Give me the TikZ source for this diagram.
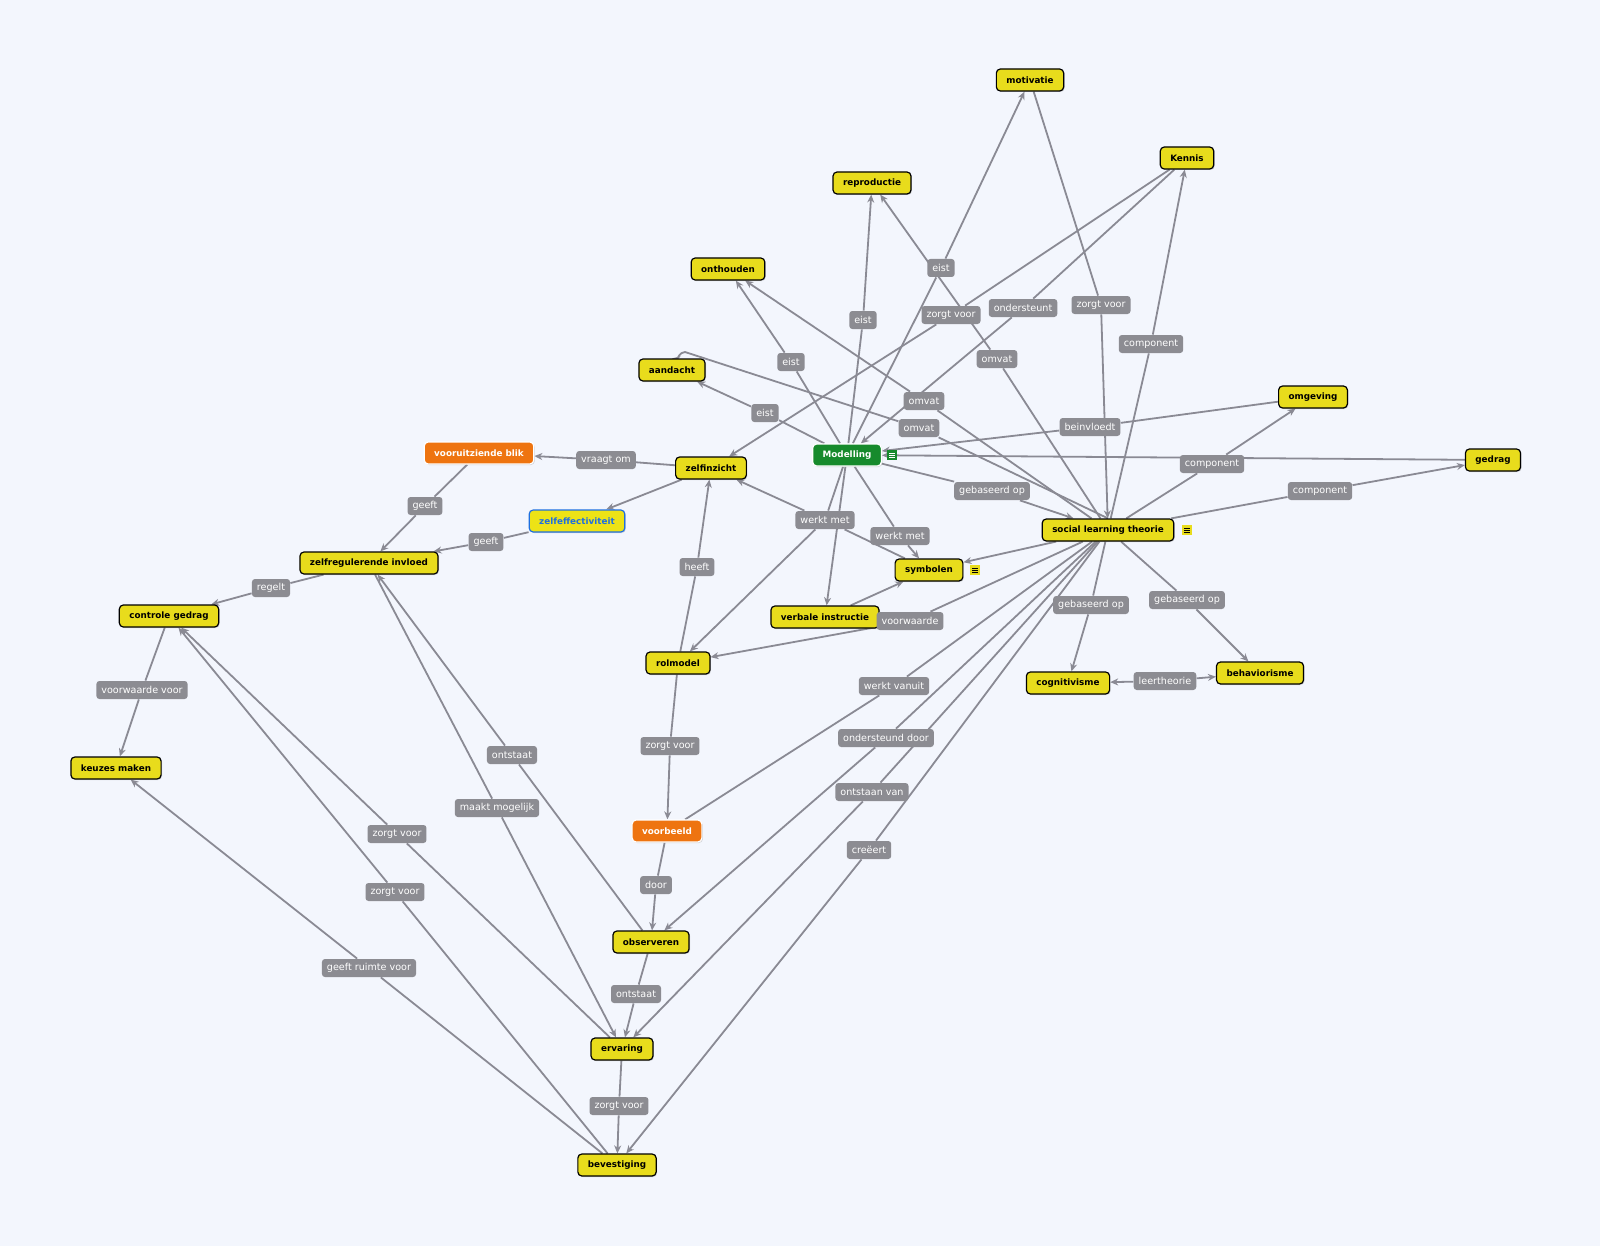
\documentclass[tikz,border=0pt]{standalone}
\usepackage{fontspec}
\setmainfont{DejaVu Sans}
\usetikzlibrary{arrows.meta,backgrounds,shadows}
\definecolor{bg}{HTML}{F3F6FD}
\definecolor{ny}{HTML}{E8DC1C}
\definecolor{ng}{HTML}{168A2C}
\definecolor{no}{HTML}{EE7410}
\definecolor{lg}{HTML}{8C8C92}
\definecolor{ln}{HTML}{8A8A94}
\definecolor{bl}{HTML}{1E6FE0}
\tikzset{
 n/.style={draw=black,line width=0.6pt,fill=ny,rounded corners=2pt,minimum height=11pt,inner xsep=5pt,inner ysep=1pt,font=\fontsize{4.4}{5}\selectfont\bfseries,drop shadow={shadow xshift=0.5pt,shadow yshift=-0.5pt,opacity=0.3}},
 ng/.style={n,draw=white,fill=ng,text=white},
 no/.style={n,draw=white,fill=no,text=white},
 nb/.style={n,draw=bl,fill=ny!80!yellow,text=bl},
 l/.style={fill=lg,text=white,rounded corners=1.5pt,minimum height=9pt,inner xsep=2.5pt,inner ysep=1pt,font=\fontsize{4.8}{5}\selectfont},
 e/.style={draw=ln,line width=0.9pt,-{Stealth[length=4pt,width=3.5pt]}},
 ea/.style={draw=ln,line width=0.9pt},
 ic/.style 2 args={fill=#1,minimum size=5pt,inner sep=0pt,path picture={\draw[#2,line width=0.35pt] ([xshift=1pt,yshift=-1.5pt]path picture bounding box.north west)--++(3pt,0) ([xshift=1pt,yshift=-2.5pt]path picture bounding box.north west)--++(3pt,0) ([xshift=1pt,yshift=-3.5pt]path picture bounding box.north west)--++(3pt,0);}},
}
\begin{document}
\begin{tikzpicture}[x=0.5pt,y=-0.5pt]
\useasboundingbox (0,0) rectangle (1600,1246);
% nodes
\node[n] (mot) at (1030,80) {motivatie};
\node[n] (ken) at (1187,158) {Kennis};
\node[n] (rep) at (872,183) {reproductie};
\node[n] (ont) at (728,269) {onthouden};
\node[n] (aan) at (672,370) {aandacht};
\node[n] (omg) at (1313,397) {omgeving};
\node[n] (ged) at (1493,460) {gedrag};
\node[ng] (mod) at (847,455) {Modelling};
\node[no] (vbl) at (479,453) {vooruitziende blik};
\node[n] (zin) at (711,468) {zelfinzicht};
\node[nb] (zef) at (577,521) {zelfeffectiviteit};
\node[n] (slt) at (1108,530) {social learning theorie};
\node[n] (zri) at (369,563) {zelfregulerende invloed};
\node[n] (sym) at (929,570) {symbolen};
\node[n] (cg) at (169,616) {controle gedrag};
\node[n] (vi) at (825,617) {verbale instructie};
\node[n] (rm) at (678,663) {rolmodel};
\node[n] (cog) at (1068,683) {cognitivisme};
\node[n] (beh) at (1260,673) {behaviorisme};
\node[n] (km) at (116,768) {keuzes maken};
\node[no] (vb) at (667,831) {voorbeeld};
\node[n] (obs) at (651,942) {observeren};
\node[n] (erv) at (622,1049) {ervaring};
\node[n] (bev) at (617,1165) {bevestiging};
\node[ic={ng}{white}] at (892,455) {};
\node[ic={ny}{black}] at (1187,530) {};
\node[ic={ny}{black}] at (975,570) {};
% labels
\node[l] (l1) at (765,413) {eist};
\node[l] (l2) at (791,362) {eist};
\node[l] (l3) at (863,320) {eist};
\node[l] (l4) at (941,268) {eist};
\node[l] (l5) at (997,359) {omvat};
\node[l] (l6) at (924,401) {omvat};
\node[l] (l7) at (919,428) {omvat};
\node[l] (l8) at (1023,308) {ondersteunt};
\node[l] (l9) at (951,315) {zorgt voor};
\node[l] (l10) at (1101,305) {zorgt voor};
\node[l] (l11) at (1151,344) {component};
\node[l] (l12) at (1090,427) {beinvloedt};
\node[l] (l13) at (1212,464) {component};
\node[l] (l14) at (1320,491) {component};
\node[l] (l15) at (992,491) {gebaseerd op};
\node[l] (l16) at (825,520) {werkt met};
\node[l] (l17) at (900,536) {werkt met};
\node[l] (l18) at (910,621) {voorwaarde};
\node[l] (l19) at (1091,605) {gebaseerd op};
\node[l] (l20) at (1187,600) {gebaseerd op};
\node[l] (l21) at (1165,681) {leertheorie};
\node[l] (l22) at (894,686) {werkt vanuit};
\node[l] (l23) at (886,738) {ondersteund door};
\node[l] (l24) at (872,792) {ontstaan van};
\node[l] (l25) at (869,850) {creëert};
\node[l] (l26) at (697,567) {heeft};
\node[l] (l27) at (670,746) {zorgt voor};
\node[l] (l28) at (656,885) {door};
\node[l] (l29) at (636,994) {ontstaat};
\node[l] (l30) at (619,1106) {zorgt voor};
\node[l] (l31) at (606,460) {vraagt om};
\node[l] (l32) at (425,506) {geeft};
\node[l] (l33) at (486,542) {geeft};
\node[l] (l34) at (271,588) {regelt};
\node[l] (l35) at (142,690) {voorwaarde voor};
\node[l] (l36) at (512,755) {ontstaat};
\node[l] (l37) at (497,808) {maakt mogelijk};
\node[l] (l38) at (397,834) {zorgt voor};
\node[l] (l39) at (395,892) {zorgt voor};
\node[l] (l40) at (369,968) {geeft ruimte voor};
% edges
\begin{scope}[on background layer]
\fill[bg] (0,0) rectangle (1600,1246);
\draw[e] (mod) -- (l1) -- (aan);
\draw[e] (mod) -- (l2) -- (ont);
\draw[e] (mod) -- (l3) -- (rep);
\draw[e] (mod) -- (l4) -- (mot);
\draw[e] (slt) -- (l5) -- (rep);
\draw[e] (slt) -- (l6) -- (ont);
\draw[e] (slt.north) -- (l7) -- (685,352) to[out=180,in=-10] (aan.north);
\draw[e] (ken) -- (l8) -- (mod);
\draw[e] (ken) -- (l9) -- (zin);
\draw[e] (mot) -- (l10) -- (slt);
\draw[e] (slt) -- (l11) -- (ken);
\draw[e] (omg) -- (l12) -- (mod);
\draw[e] (ged) -- (mod);
\draw[e] (slt) -- (l13) -- (omg);
\draw[e] (slt) -- (l14) -- (ged);
\draw[e] (mod) -- (l15) -- (slt);
\draw[e] (mod) -- (l16) -- (rm);
\draw[e] (mod) -- (l17) -- (sym);
\draw[e] (sym) -- (l16) -- (zin);
\draw[e] (mod) -- (vi);
\draw[e] (slt) -- (sym);
\draw[e] (vi) -- (sym);
\draw[e] (slt) -- (l18) -- (rm);
\draw[e] (slt) -- (l19) -- (cog);
\draw[e] (slt) -- (l20) -- (beh);
\draw[e] (l21) -- (cog);
\draw[e] (l21) -- (beh);
\draw[ea] (slt) -- (l22) -- (vb);
\draw[e] (slt) -- (l23) -- (obs);
\draw[e] (slt) -- (l24) -- (erv);
\draw[e] (slt) -- (l25) -- (bev);
\draw[e] (rm) -- (l26) -- (zin);
\draw[e] (rm) -- (l27) -- (vb);
\draw[e] (vb) -- (l28) -- (obs);
\draw[e] (obs) -- (l29) -- (erv);
\draw[e] (erv) -- (l30) -- (bev);
\draw[e] (zin) -- (l31) -- (vbl);
\draw[e] (zin) -- (zef);
\draw[e] (vbl) -- (l32) -- (zri);
\draw[e] (zef) -- (l33) -- (zri);
\draw[e] (zri) -- (l34) -- (cg);
\draw[e] (cg) -- (l35) -- (km);
\draw[e] (obs) -- (l36) -- (zri);
\draw[e] (zri) -- (l37) -- (erv);
\draw[e] (erv) -- (l38) -- (cg);
\draw[e] (bev) -- (l39) -- (cg);
\draw[e] (bev) -- (l40) -- (km);
\end{scope}
\end{tikzpicture}
\end{document}
